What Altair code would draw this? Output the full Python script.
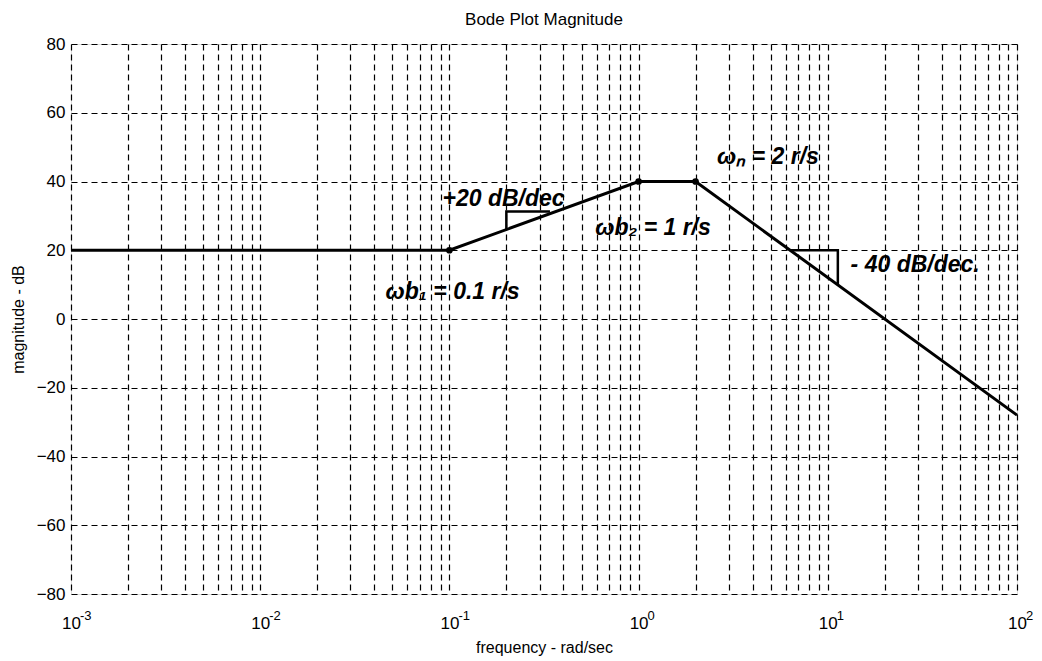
import altair as alt
import pandas as pd

# Asymptotic Bode magnitude
freq = [0.001, 0.1, 1.0, 2.0, 100.0]
mag = [20, 20, 40, 40, -27.96]

corner_freq = [0.1, 1.0, 2.0]
corner_mag = [20, 40, 40]

# slope triangles (hand drawn)
tri_id = ["a", "a", "a", "b", "b", "b"]
tri_order = [0, 1, 2, 0, 1, 2]
tri_freq = [0.2, 0.2, 0.34, 6.3, 11.3, 11.3]
tri_mag = [26.0, 31.3, 31.3, 20.0, 20.0, 9.9]

# hand written notes
note_text = ["+20 dB/dec", "ωb₂ = 1 r/s", "ωₙ =  2 r/s", "- 40  dB/dec.", "ωb₁ = 0.1  r/s"]
note_freq = [0.092, 0.59, 2.6, 13.2, 0.046]
note_mag = [34.8, 26.5, 47.0, 15.7, 7.9]

decades = [0.001, 0.01, 0.1, 1.0, 10.0, 100.0]
exponents = ["-3", "-2", "-1", "0", "1", "2"]
y_ticks = [-80, -60, -40, -20, 0, 20, 40, 60, 80]
x_grid = [m * d for d in [0.001, 0.01, 0.1, 1.0, 10.0] for m in range(1, 10)] + [100.0]

W, H = 946, 550
FONT = "Liberation Sans"

xscale = alt.Scale(type="log", domain=[0.001, 100], nice=False)
yscale = alt.Scale(domain=[-80, 80], nice=False, zero=False)

line_df = pd.DataFrame({"f": freq, "m": mag})
pts_df = pd.DataFrame({"f": corner_freq, "m": corner_mag})
tri_df = pd.DataFrame({"id": tri_id, "o": tri_order, "f": tri_freq, "m": tri_mag})
note_df = pd.DataFrame({"t": note_text, "f": note_freq, "m": note_mag})
exp_df = pd.DataFrame({"f": decades, "e": exponents})

x_axis = alt.Axis(
    values=x_grid,
    labelExpr="abs(log(datum.value)/LN10 - round(log(datum.value)/LN10)) < 0.000001 ? '10' : ''",
    title="frequency - rad/sec",
    grid=True, gridColor="black", gridDash=[6, 4], gridOpacity=1, gridWidth=1.2,
    ticks=False, tickSize=0, domain=False,
    labelFont=FONT, labelFontSize=17, labelColor="black",
    labelBaseline="alphabetic", labelPadding=34,
    labelOverlap=False, labelFlush=False,
    titleFont=FONT, titleFontSize=16, titleFontWeight="normal", titleColor="black",
    titleY=53, titleBaseline="middle",
)
y_axis = alt.Axis(
    values=y_ticks,
    title="magnitude - dB",
    grid=True, gridColor="black", gridDash=[6, 4], gridOpacity=1, gridWidth=1.2,
    ticks=False, tickSize=0, domain=False,
    labelFont=FONT, labelFontSize=17, labelColor="black", labelPadding=6,
    labelOverlap=False, labelFlush=False,
    titleFont=FONT, titleFontSize=16, titleFontWeight="normal", titleColor="black",
    titleX=-53, titleY=H / 2, titleBaseline="middle", titleAlign="center",
)

line = alt.Chart(line_df).mark_line(color="black", strokeWidth=3).encode(
    x=alt.X("f:Q", scale=xscale, axis=x_axis),
    y=alt.Y("m:Q", scale=yscale, axis=y_axis),
)
pts = alt.Chart(pts_df).mark_circle(color="black", size=45, opacity=1).encode(
    x=alt.X("f:Q", scale=xscale), y=alt.Y("m:Q", scale=yscale)
)
tri = alt.Chart(tri_df).mark_line(color="black", strokeWidth=2.5).encode(
    x=alt.X("f:Q", scale=xscale), y=alt.Y("m:Q", scale=yscale),
    detail="id:N", order="o:Q",
)
notes = alt.Chart(note_df).mark_text(
    font=FONT, fontSize=23, fontStyle="italic", fontWeight="bold",
    align="left", baseline="middle", color="black",
).encode(x=alt.X("f:Q", scale=xscale), y=alt.Y("m:Q", scale=yscale), text="t:N")
exps = alt.Chart(exp_df).mark_text(
    font=FONT, fontSize=13, align="left", baseline="alphabetic", color="black", dx=9,
).encode(x=alt.X("f:Q", scale=xscale), y=alt.value(H + 26), text="e:N")

chart = (
    alt.layer(line, tri, pts, notes, exps)
    .properties(
        width=W, height=H,
        title=alt.TitleParams("Bode Plot Magnitude", font=FONT, fontSize=17,
                              fontWeight="normal", color="black", offset=6, anchor="middle"),
        autosize=alt.AutoSizeParams(type="none"),
        padding={"left": 63, "top": 36, "right": 17, "bottom": 66},
    )
    .configure_view(stroke="black", strokeWidth=1.5)
    .configure(background="white")
)

chart.save("out.html", embed_options={"renderer": "svg", "actions": False})
